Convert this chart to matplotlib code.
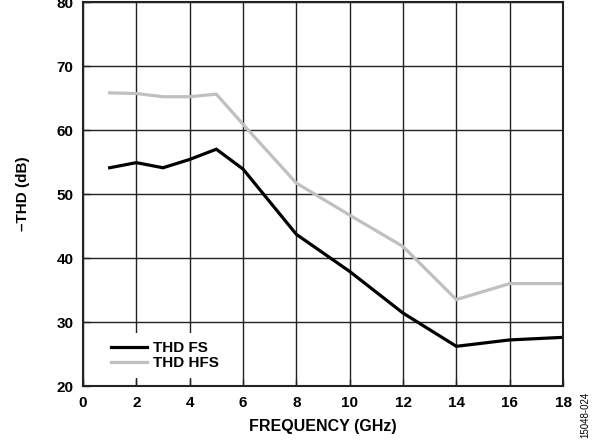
import matplotlib
matplotlib.use("Agg")
import matplotlib.pyplot as plt

freq = [1, 2, 3, 4, 5, 6, 8, 10, 12, 14, 16, 18]
thd_fs = [54.1, 54.9, 54.1, 55.4, 57.0, 53.9, 43.7, 37.9, 31.4, 26.2, 27.2, 27.6]
thd_hfs = [65.8, 65.7, 65.2, 65.2, 65.6, 60.9, 51.7, 46.7, 41.8, 33.5, 36.0, 36.0]
xticks = [0, 2, 4, 6, 8, 10, 12, 14, 16, 18]
yticks = [20, 30, 40, 50, 60, 70, 80]

plt.rcParams['font.family'] = ['Liberation Sans', 'DejaVu Sans']
fig = plt.figure(figsize=(5.98, 4.46), dpi=100)
pos = [83/598, 60/446, 480/598, 384/446]
ax = fig.add_axes(pos)

ax.plot(freq, thd_fs, color='black', lw=2.3, label='THD FS', solid_joinstyle='miter', zorder=3)
ax.plot(freq, thd_hfs, color='#c0c0c0', lw=2.3, label='THD HFS', solid_joinstyle='miter', zorder=3)

ax.set_xlim(0, 18)
ax.set_ylim(20, 80)
ax.set_xticks(xticks)
ax.set_yticks(yticks)
ax.grid(True, color='#222222', lw=1.0)
ax.set_axisbelow(True)
for s in ax.spines.values():
    s.set_visible(False)
ax.tick_params(direction='in', length=0, labelsize=11, pad=7)
for lab in ax.get_xticklabels() + ax.get_yticklabels():
    lab.set_fontweight('bold')

ax.set_xlabel('FREQUENCY (GHz)', fontsize=11.5, fontweight='bold', labelpad=7)
ax.set_ylabel('\u2013THD (dB)', fontsize=11, fontweight='bold', labelpad=19)

leg = ax.legend(loc='lower left', bbox_to_anchor=(0.04, 0.02), borderaxespad=0,
                frameon=True, prop={'weight': 'bold', 'size': 11}, handlelength=2.4,
                handletextpad=0.4, labelspacing=0.05, borderpad=0.55,
                fancybox=False)
leg.get_frame().set_edgecolor('none')
leg.get_frame().set_facecolor('white')
leg.get_frame().set_alpha(1.0)
leg.set_zorder(4)

# overlay axes for inward ticks and frame drawn above the legend
ax2 = fig.add_axes(pos, facecolor='none', zorder=5)
ax2.set_xlim(0, 18)
ax2.set_ylim(20, 80)
ax2.set_xticks(xticks)
ax2.set_yticks(yticks)
ax2.tick_params(direction='in', length=5, width=1.0, color='#222222',
                labelbottom=False, labelleft=False)
for s in ax2.spines.values():
    s.set_linewidth(1.5)
    s.set_color('#222222')

fig.text(585/598, 1 - 415/446, '15048-024', rotation=90, fontsize=7,
         ha='center', va='center')

fig.savefig('out.png', dpi=100)
